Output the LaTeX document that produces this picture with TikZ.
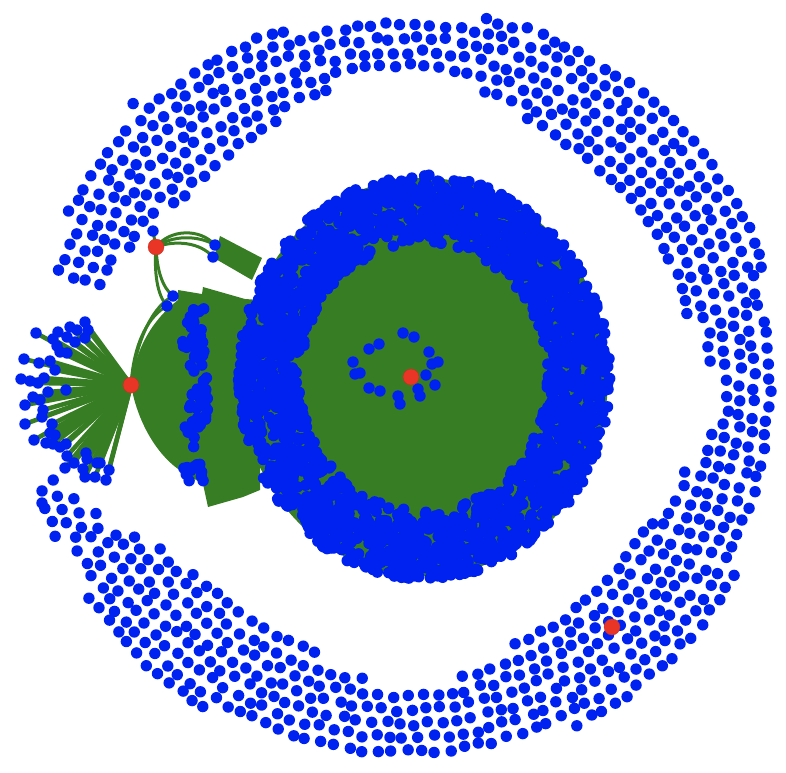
\documentclass[tikz,border=0pt]{standalone}
\definecolor{nb}{RGB}{0,34,240}
\definecolor{ng}{RGB}{55,125,35}
\definecolor{nr}{RGB}{232,53,38}
\tikzset{
  dot/.style={fill=nb},
  edge/.style={draw=ng, line width=3pt},
  fanline/.style={draw=ng, line width=4.5pt},
  hub/.style={circle, fill=nr, draw=nr!85!black, line width=0.3pt, minimum size=16pt, inner sep=0pt},
}
\begin{document}
\begin{tikzpicture}[x=1pt,y=-1pt]
\useasboundingbox (0,0) rectangle (786,772);
\pgfmathsetseed{12345}
\coordinate (c1) at (131,385);
\coordinate (c2) at (156,247);
\coordinate (c3) at (411,377);
\coordinate (c4) at (612,627);
\coordinate (dc) at (424,377);
\coordinate (d0) at (153,231);
\coordinate (d1) at (215,245);
\coordinate (d2) at (213,257);
\coordinate (d3) at (173,296);
\coordinate (d4) at (167,306);
% ---------- green areas ----------
\fill[ng] (dc) ellipse [x radius=184pt, y radius=199pt];
\fill[ng] (c1) .. controls (136,345) and (155,318) .. (178,300) -- (178,290) -- (202,294) -- (203,287) -- (245,299) -- (260,300) -- (260,490) -- (243,497) -- (208,507) -- (203,484) -- (186,474) .. controls (160,460) and (138,425) .. (c1) -- cycle;
\fill[ng] (214,258) -- (220,236) -- (262,258) -- (252,280) -- cycle;
% fan from left hub
\foreach \p in {(36,333),(85,322),(70,327),(77,330),(88,330),(58,332),(53,339),(67,337),(75,342),(85,338),(57,346),(60,352),(67,353),(24,359),(39,363),(50,361),(55,370),(21,379),(30,381),(38,383),(44,378),(48,392),(66,390),(25,405),(33,397),(40,400),(43,410),(42,417),(25,424),(52,424),(50,433),(55,435),(34,440),(46,443),(53,444),(60,447),(66,444),(67,456),(74,463),(65,468),(86,453),(87,459),(97,463),(100,463),(83,469),(85,477),(95,477),(106,480),(109,470)}
  {\draw[fanline] (c1) -- \p;}
% edges around upper-left hub
\draw[edge] (c2) -- (d0);
\draw[edge] (c2) .. controls (170,229) and (200,228) .. (d1);
\draw[edge] (c2) .. controls (172,235) and (198,235) .. (d1);
\draw[edge] (c2) .. controls (175,240) and (200,242) .. (d2);
\draw[edge] (c2) .. controls (157,270) and (162,287) .. (d3);
\draw[edge] (c2) .. controls (154,272) and (157,295) .. (d4);
\draw[edge] (c1) .. controls (134,340) and (150,315) .. (d4);
\draw[edge] (c1) .. controls (137,335) and (155,305) .. (d3);
% ---------- outer ring ----------
\foreach \ta/\tb/\ia/\ib/\oa/\ob in {
 -165/-158/360/338/381/377, -158/-150/338/302/377/372, -150/-142/302/286/372/382,
 -142/-135/286/280/382/386, -135/-127/280/277/386/382, -127/-118/277/280/382/372,
 -118/-108/280/284/372/368, -108/-100/284/296/368/362, -100/-88/296/308/362/362,
 -88/-80/308/298/362/367, -80/-70/298/284/367/372, -70/-58/284/279/372/380,
 -58/-45/279/276/380/384, -45/-37/276/277/384/382, -37/-28/277/282/382/376,
 -28/-17/282/297/376/373, -17/-10/297/310/373/370, -10/-2/310/320/370/362,
 -2/8/320/305/362/370, 8/18/305/294/370/376, 18/30/294/289/376/382,
 30/40/289/286/382/389, 40/50/286/286/389/388, 50/62/286/294/388/381,
 62/73/294/307/381/378, 73/81/307/320/378/375, 81/90/320/322/375/368,
 90/100/322/316/368/374, 100/110/316/300/374/377, 110/126/300/291/377/383,
 126/133/291/292/383/391, 133/146/292/300/391/382, 146/155/300/312/382/374,
 155/163/312/318/374/368} {
  \foreach \k in {0,...,8} {
    \pgfmathsetmacro\rr{280+14*\k}
    \pgfmathsetmacro\dt{14.5/\rr*57.29578}
    \pgfmathsetmacro\off{mod(\k,2)*0.5*\dt}
    \pgfmathtruncatemacro\js{ceil((\ta+165-\off)/\dt)}
    \pgfmathtruncatemacro\je{ceil((\tb+165-\off)/\dt)-1}
    \ifnum\je<\js\else
    \foreach \jj in {\js,...,\je} {
      \pgfmathsetmacro\rth{-165+\off+\jj*\dt}
      \pgfmathsetmacro\uu{(\rth-\ta)/(\tb-\ta)}
      \pgfmathsetmacro\rin{\ia+(\ib-\ia)*\uu}
      \pgfmathsetmacro\rout{\oa+(\ob-\oa)*\uu}
      \pgfmathtruncatemacro\ok{and(\rr>=\rin-4,\rr<=\rout+2)}
      \ifnum\ok=1
        \pgfmathsetmacro\rj{\rr+2.5*rand}
        \pgfmathsetmacro\tj{\rth+0.4*rand}
        \fill[dot] ({405+\rj*cos(\tj)},{388-\rj*sin(\tj)}) circle[radius=5.7pt];
      \fi
    }
    \fi
  }
}
\fill[dot] (42,503) circle[radius=5.7pt];
% ---------- central disk ring ----------
\foreach \i in {1,...,2300} {
  \pgfmathsetmacro\rf{sqrt(0.44+0.56*rnd)}
  \pgfmathsetmacro\aa{360*rnd}
  \fill[dot] ({424+186*\rf*cos(\aa)},{377+202*\rf*sin(\aa)}) circle[radius=5.7pt];
}
% column left of disk
\foreach \i in {1,...,75} {
  \pgfmathsetmacro\yy{306+176*rnd}
  \pgfmathsetmacro\xx{196+10*rand+4*sin(\yy*3)}
  \fill[dot] (\xx,\yy) circle[radius=5.7pt];
}
% inner cluster
\foreach \p in {(403,333),(414,337),(379,344),(369,349),(429,352),(353,362),(438,362),(432,364),(355,374),(360,373),(426,375),(435,385),(369,388),(380,391),(418,389),(420,396),(398,396),(400,404)}
  {\fill[dot] \p circle[radius=5.7pt];}
% fan dots
\foreach \p in {(36,333),(85,322),(70,327),(77,330),(88,330),(58,332),(53,339),(67,337),(75,342),(85,338),(57,346),(60,352),(67,353),(24,359),(39,363),(50,361),(55,370),(21,379),(30,381),(38,383),(44,378),(48,392),(66,390),(25,405),(33,397),(40,400),(43,410),(42,417),(25,424),(52,424),(50,433),(55,435),(34,440),(46,443),(53,444),(60,447),(66,444),(67,456),(74,463),(65,468),(86,453),(87,459),(97,463),(100,463),(83,469),(85,477),(95,477),(106,480),(109,470)}
  {\fill[dot] \p circle[radius=5.7pt];}
\foreach \c in {d0,d1,d2,d3,d4} {\fill[dot] (\c) circle[radius=5.7pt];}
% ---------- hubs ----------
\node[hub] (h1) at (c1) {};
\node[hub] (h2) at (c2) {};
\node[hub] (h3) at (c3) {};
\node[hub] (h4) at (c4) {};
\end{tikzpicture}
\end{document}
